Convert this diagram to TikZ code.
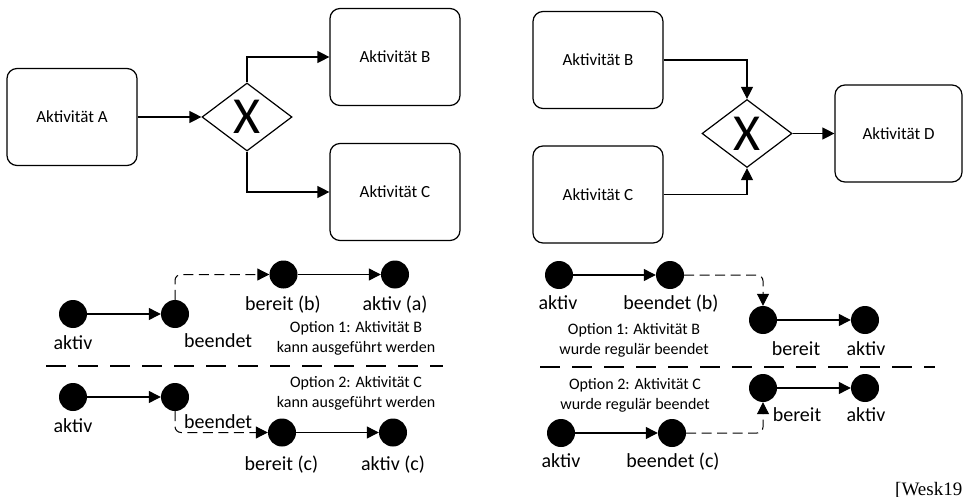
\documentclass[tikz,border=0pt]{standalone}
\usepackage{fontspec}
\setmainfont{Carlito}
\newfontfamily\citefont{Liberation Serif}
\usetikzlibrary{positioning}
\usetikzlibrary{arrows.meta}
\usetikzlibrary{shapes.geometric}

\begin{document}
\begin{tikzpicture}[x=1pt,y=-1pt,
	act/.style={draw, line width=1.2pt, rounded corners=10pt, minimum width=130pt, minimum height=97pt, font=\fontsize{17}{20}\selectfont},
	gate/.style={draw, diamond, line width=1.2pt, minimum width=90pt, minimum height=68pt, inner sep=0pt, font=\fontsize{52}{52}\selectfont},
	state/.style={circle, fill, inner sep=0pt, minimum size=28pt},
	lbl/.style={inner sep=0pt, font=\fontsize{20}{22}\selectfont},
	opt/.style={align=center, inner sep=0pt, font=\fontsize{16}{20}\selectfont},
	flow/.style={line width=1.2pt, -{Triangle[length=12pt,width=12pt]}},
	dflow/.style={flow, line width=1pt, dash pattern=on 10pt off 5.5pt, rounded corners=6pt}]
	\useasboundingbox (0,0) rectangle (963,497);

	% XOR split
	\node[act] (actA) at (72,117) {Aktivität A};
	\node[gate] (xorSplit) at (247,117) {X};
	\node[act] (actB) at (395,57) {Aktivität B};
	\node[act] (actC) at (395,192) {Aktivität C};
	\draw[flow] (actA) -- (xorSplit);
	\draw[flow] (xorSplit.north) |- (actB.west);
	\draw[flow] (xorSplit.south) |- (actC.west);

	% XOR join
	\node[act] (actB2) at (598,60) {Aktivität B};
	\node[act] (actC2) at (598,194.5) {Aktivität C};
	\node[gate] (xorJoin) at (747,133.5) {X};
	\node[act, minimum width=127pt] (actD) at (898.5,133.5) {Aktivität D};
	\draw[flow] (actB2.east) -| (xorJoin.north);
	\draw[flow] (actC2.east) -| (xorJoin.south);
	\draw[flow] (xorJoin) -- (actD);

	% split, option 1
	\node[state] (sA1) at (73,314) {};
	\node[state] (sB1) at (175,314) {};
	\node[state] (sC1) at (283.5,274.5) {};
	\node[state] (sD1) at (395,274.5) {};
	\draw[flow] (sA1) -- (sB1);
	\draw[dflow] (sB1.north) |- (sC1.west);
	\draw[flow] (sC1) -- (sD1);
	\node[lbl, anchor=base] (lA1) at (73,349) {aktiv};
	\node[lbl, anchor=base west] (lB1) at (184,347) {beendet};
	\node[lbl, anchor=base] (lC1) at (283,310) {bereit (b)};
	\node[lbl, anchor=base] (lD1) at (395,310) {aktiv (a)};
	\node[opt] (optS1) at (356,338) {Option 1: Aktivität B\\kann ausgeführt werden};

	% split, option 2
	\node[state] (sA2) at (73,397) {};
	\node[state] (sB2) at (175,397) {};
	\node[state] (sC2) at (282,432.5) {};
	\node[state] (sD2) at (393,432.5) {};
	\draw[flow] (sA2) -- (sB2);
	\draw[dflow] (sB2.south) |- (sC2.west);
	\draw[flow] (sC2) -- (sD2);
	\node[lbl, anchor=base] (lA2) at (73,432) {aktiv};
	\node[lbl, anchor=base west] (lB2) at (184,428) {beendet};
	\node[lbl, anchor=base] (lC2) at (281.5,470) {bereit (c)};
	\node[lbl, anchor=base] (lD2) at (393,470) {aktiv (c)};
	\node[opt] (optS2) at (356,393) {Option 2: Aktivität C\\kann ausgeführt werden};

	% join, option 1
	\node[state] (tA1) at (559,275) {};
	\node[state] (tB1) at (670,275) {};
	\node[state] (tC1) at (763,320) {};
	\node[state] (tD1) at (865,320) {};
	\draw[flow] (tA1) -- (tB1);
	\draw[dflow] (tB1.east) -| (tC1.north);
	\draw[flow] (tC1) -- (tD1);
	\node[lbl, anchor=base] (mA1) at (558,309) {aktiv};
	\node[lbl, anchor=base] (mB1) at (671,309) {beendet (b)};
	\node[lbl, anchor=base] (mC1) at (796,355) {bereit};
	\node[lbl, anchor=base] (mD1) at (866,355) {aktiv};
	\node[opt] (optJ1) at (634,340.5) {Option 1: Aktivität B\\wurde regulär beendet};

	% join, option 2
	\node[state] (tA2) at (561,433) {};
	\node[state] (tB2) at (672,433) {};
	\node[state] (tC2) at (763,388) {};
	\node[state] (tD2) at (865,388) {};
	\draw[flow] (tA2) -- (tB2);
	\draw[dflow] (tB2.east) -| (tC2.south);
	\draw[flow] (tC2) -- (tD2);
	\node[lbl, anchor=base] (mA2) at (561,467) {aktiv};
	\node[lbl, anchor=base] (mB2) at (673,467) {beendet (c)};
	\node[lbl, anchor=base] (mC2) at (797,421) {bereit};
	\node[lbl, anchor=base] (mD2) at (866,421) {aktiv};
	\node[opt] (optJ2) at (635,395.5) {Option 2: Aktivität C\\wurde regulär beendet};

	% separators
	\draw[line width=1.2pt, dash pattern=on 20pt off 12pt] (46,366) -- (443,366);
	\draw[line width=1.2pt, dash pattern=on 20pt off 12pt] (540,367) -- (935,367);

	\node[anchor=base west, inner sep=0pt, font={\citefont\fontsize{19}{22}\selectfont}] (cite) at (895,495) {[Wesk19]};
\end{tikzpicture}
\end{document}
